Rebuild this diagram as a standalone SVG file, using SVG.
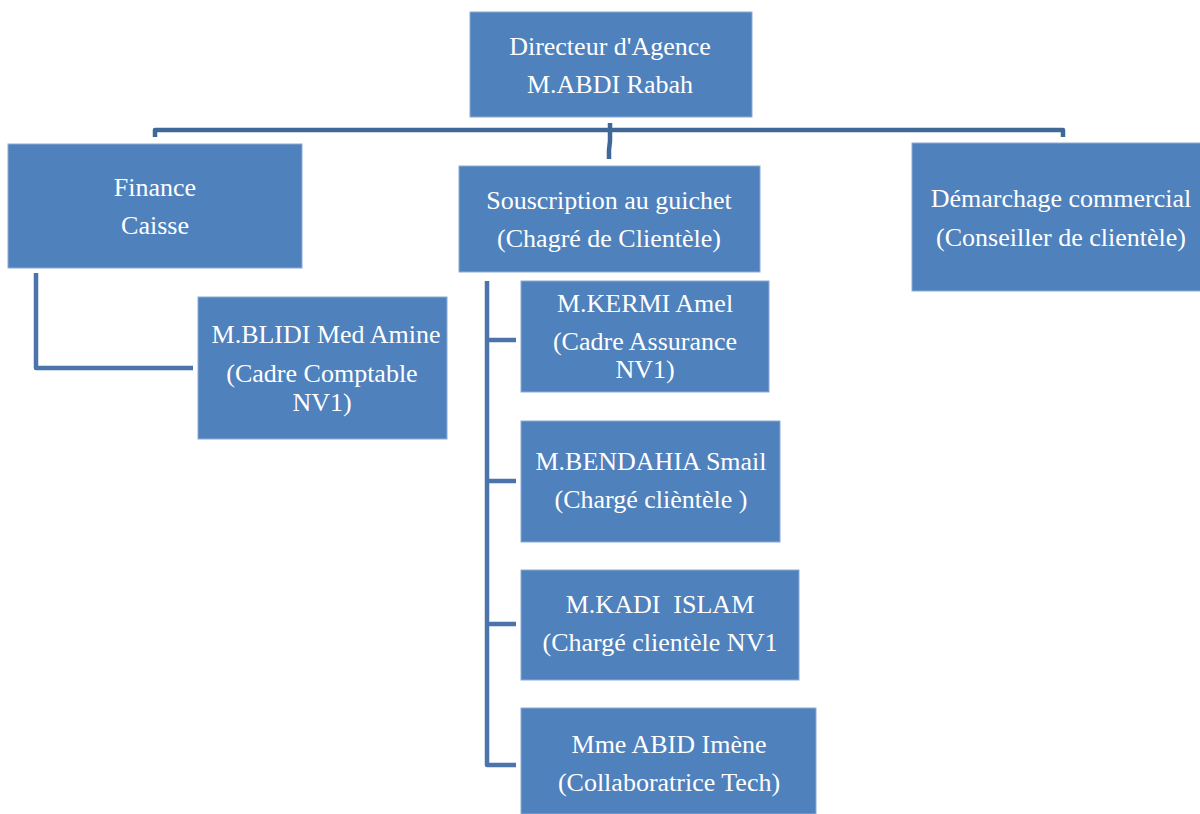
<svg xmlns="http://www.w3.org/2000/svg" width="1200" height="814" viewBox="0 0 1200 814">
  <style>
    .box { fill: #4F81BD; stroke: #8eaad4; stroke-width: 1; }
    .lbl { font-family: "Liberation Serif", "Times New Roman", serif; font-size: 26px; fill: #ffffff; text-anchor: middle; white-space: pre; }
    .bus { fill: none; stroke: #3f6898; stroke-width: 4.5; stroke-linejoin: round; }
    .link { fill: none; stroke: #4a74aa; stroke-width: 4.5; stroke-linejoin: round; }
  </style>
  <rect width="1200" height="814" fill="#ffffff"/>

  <!-- connectors -->
  <g id="connectors">
    <path class="bus" d="M155,137 V130 H1063 V137"/>
    <path class="bus" d="M610,123 V141 L609,150 V159"/>
    <path class="link" d="M36,273 V368 H193"/>
    <path class="link" d="M487,281 V765 H516 M487,340 H516 M487,481 H516 M487,624 H516"/>
  </g>

  <g id="directeur">
    <rect class="box" x="470" y="12" width="282" height="105"/>
    <text class="lbl" x="610" y="55">Directeur d'Agence</text>
    <text class="lbl" x="610" y="93">M.ABDI Rabah</text>
  </g>

  <g id="finance">
    <rect class="box" x="8" y="144" width="294" height="124"/>
    <text class="lbl" x="155" y="196">Finance</text>
    <text class="lbl" x="155" y="234">Caisse</text>
  </g>

  <g id="souscription">
    <rect class="box" x="459" y="166" width="301" height="106"/>
    <text class="lbl" x="609" y="209">Souscription au guichet</text>
    <text class="lbl" x="609" y="247">(Chagré de Clientèle)</text>
  </g>

  <g id="demarchage">
    <rect class="box" x="912" y="143" width="290" height="148"/>
    <text class="lbl" x="1061" y="207">Démarchage commercial</text>
    <text class="lbl" x="1061" y="246">(Conseiller de clientèle)</text>
  </g>

  <g id="blidi">
    <rect class="box" x="198" y="297" width="249" height="142"/>
    <text class="lbl" x="326" y="343">M.BLIDI Med Amine</text>
    <text class="lbl" x="322" y="382">(Cadre Comptable</text>
    <text class="lbl" x="322" y="411">NV1)</text>
  </g>

  <g id="kermi">
    <rect class="box" x="521" y="281" width="248" height="111"/>
    <text class="lbl" x="645" y="312">M.KERMI Amel</text>
    <text class="lbl" x="645" y="350">(Cadre Assurance</text>
    <text class="lbl" x="645" y="378">NV1)</text>
  </g>

  <g id="bendahia">
    <rect class="box" x="521" y="421" width="259" height="121"/>
    <text class="lbl" x="651" y="470">M.BENDAHIA Smail</text>
    <text class="lbl" x="651" y="508">(Chargé clièntèle )</text>
  </g>

  <g id="kadi">
    <rect class="box" x="521" y="570" width="278" height="110"/>
    <text class="lbl" x="660" y="613">M.KADI  ISLAM</text>
    <text class="lbl" x="660" y="651">(Chargé clientèle NV1</text>
  </g>

  <g id="abid">
    <rect class="box" x="521" y="708" width="295" height="106"/>
    <text class="lbl" x="669" y="753">Mme ABID Imène</text>
    <text class="lbl" x="669" y="791">(Collaboratrice Tech)</text>
  </g>
</svg>
